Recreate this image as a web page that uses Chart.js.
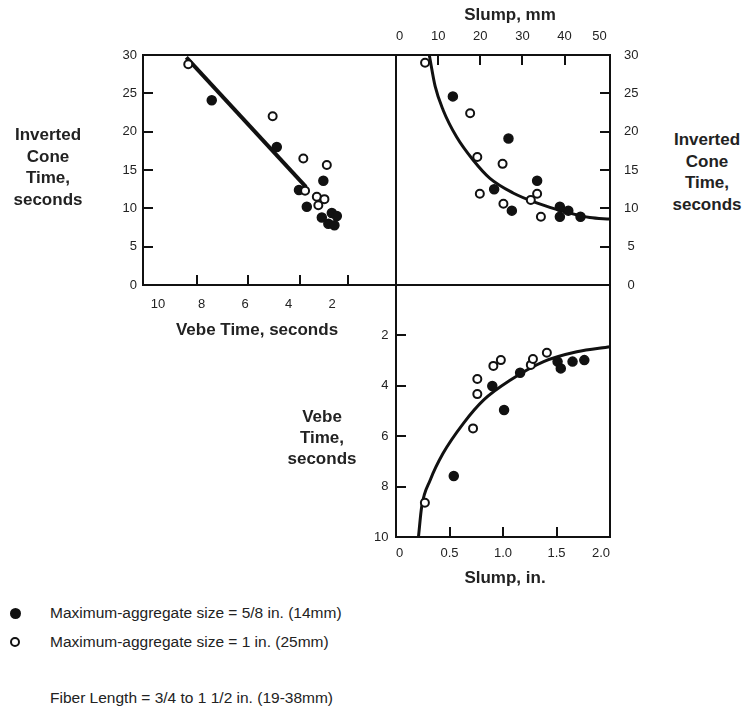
<!DOCTYPE html>
<html><head><meta charset="utf-8">
<script src="https://cdn.jsdelivr.net/npm/chart.js@4.4.1/dist/chart.umd.min.js"></script>
<style>
html,body{margin:0;padding:0;background:#fff;width:743px;height:714px;overflow:hidden;position:relative;font-family:"Liberation Sans",Arial,Helvetica,sans-serif;color:#222}
canvas{position:absolute}
.t{position:absolute;text-align:center;font-weight:bold;font-size:17px;line-height:21.7px;white-space:nowrap}
.lg{position:absolute;left:50px;font-size:15.5px;line-height:20px;white-space:nowrap}
.dot{position:absolute;border-radius:50%;box-sizing:border-box}
.tk{position:absolute;background:#111}
</style></head><body>
<canvas id="cA" width="316" height="310" style="left:90px;top:30px"></canvas>
<canvas id="cB" width="280" height="310" style="left:380px;top:0px"></canvas>
<canvas id="cC" width="290" height="330" style="left:340px;top:270px"></canvas>

<div class="t" style="left:-12px;top:124px;width:120px">Inverted<br>Cone<br>Time,<br>seconds</div>
<div class="t" style="left:662px;top:129px;width:90px">Inverted<br>Cone<br>Time,<br>seconds</div>
<div class="t" style="left:262px;top:406px;width:120px;line-height:21px">Vebe<br>Time,<br>seconds</div>
<div class="t" style="left:157px;top:319px;width:200px">Vebe Time, seconds</div>
<div class="t" style="left:445px;top:567px;width:120px">Slump, in.</div>
<div class="t" style="left:450px;top:4px;width:120px">Slump, mm</div>

<div class="dot" style="left:10px;top:608px;width:11px;height:11px;background:#111"></div>
<div class="lg" style="top:603px">Maximum-aggregate size = 5/8 in. (14mm)</div>
<div class="dot" style="left:10px;top:637px;width:10px;height:10px;border:2px solid #111;background:#fff"></div>
<div class="lg" style="top:632px">Maximum-aggregate size = 1 in. (25mm)</div>
<div class="lg" style="top:688px">Fiber Length = 3/4 to 1 1/2 in. (19-38mm)</div>

<script>
// ---------- Data ----------
// Panel A: Inverted cone time (s) vs Vebe time (s)
const vebeBlackA = [7.53, 4.54, 3.52, 2.40, 3.16, 2.47, 2.01, 1.78, 2.17, 1.89];
const coneBlackA = [24.1, 18.0, 12.4, 13.6, 10.2, 8.8, 9.4, 9.0, 8.0, 7.8];
const vebeOpenA  = [8.61, 4.73, 3.32, 2.24, 3.24, 2.70, 2.35, 2.63];
const coneOpenA  = [28.8, 22.0, 16.5, 15.65, 12.3, 11.5, 11.2, 10.4];
const vebeFitA   = [8.7, 3.2];
const coneFitA   = [29.7, 12.8];
const vebeTicksA = [10, 8, 6, 4, 2];
const vebeTickMarksA = [8.22, 5.85, 3.47, 1.25];   // tick marks as drawn in the figure
const coneTicks  = [0, 5, 10, 15, 20, 25, 30];
const coneTickMarks = [5, 10, 15, 20, 25];

// Panel B: Inverted cone time (s) vs slump (mm)
const slumpMmOpenB  = [6.9, 17.6, 19.3, 25.3, 19.9, 25.5, 32.0, 33.5, 34.4];
const coneOpenB     = [29.0, 22.4, 16.7, 15.8, 11.9, 10.6, 11.1, 11.9, 8.9];
const slumpMmBlackB = [13.5, 26.7, 23.3, 27.5, 33.5, 38.9, 38.9, 40.9, 43.8];
const coneBlackB    = [24.6, 19.1, 12.5, 9.7, 13.6, 10.2, 8.9, 9.7, 8.9];
const slumpMmCurveB = [7.9, 9.3, 11.2, 14.4, 18.3, 22.3, 27.8, 33.4, 39.7, 46.0, 50.8];
const coneCurveB    = [30.0, 25.9, 22.8, 19.3, 16.3, 13.9, 12.0, 10.7, 9.6, 8.8, 8.6];
const slumpMmTicks  = [0, 10, 20, 30, 40, 50];
const slumpMmTickMarks = [10, 20, 30, 40];

// Panel C: Vebe time (s) vs slump (in.)
const slumpInOpenC  = [0.27, 0.72, 0.76, 0.76, 0.91, 0.98, 1.26, 1.28, 1.41];
const vebeOpenC     = [8.64, 5.69, 4.33, 3.73, 3.21, 2.98, 3.17, 2.94, 2.69];
const slumpInBlackC = [0.54, 1.01, 0.90, 1.16, 1.51, 1.54, 1.65, 1.76];
const vebeBlackC    = [7.58, 4.96, 4.01, 3.48, 3.04, 3.31, 3.04, 2.98];
const slumpInCurveC = [0.21, 0.24, 0.32, 0.44, 0.63, 0.82, 1.07, 1.38, 1.69, 2.0];
const vebeCurveC    = [10.0, 8.8, 7.74, 6.68, 5.49, 4.56, 3.77, 3.04, 2.65, 2.45];
const slumpInTicks  = [0, 0.5, 1, 1.5, 2];
const slumpInLabels = ['0', '0.5', '1.0', '1.5', '2.0'];
const slumpInTickMarks = [0.5, 1, 1.5];
const vebeTicksC    = [2, 4, 6, 8, 10];
const vebeTickMarksC = [2, 4, 6, 8];

// ---------- Helpers ----------
const FONT = '"Liberation Sans", Arial, Helvetica, sans-serif';
const INK = '#111';
function zip(xs, ys) { return xs.map((x, i) => ({ x: x, y: ys[i] })); }

// frame around the plot area
const framePlugin = {
  id: 'frame',
  afterDraw(chart) {
    const ctx = chart.ctx;
    const a = chart.chartArea;
    ctx.save();
    ctx.setLineDash([]);
    ctx.lineWidth = 2;
    ctx.strokeStyle = INK;
    ctx.strokeRect(a.left, a.top, a.right - a.left, a.bottom - a.top);
    ctx.restore();
  }
};

// inward tick marks, positioned through each chart's own scales
function addTickMarks(chart, xMarks, yMarks) {
  const cv = chart.canvas;
  const ox = cv.offsetLeft, oy = cv.offsetTop;
  const a = chart.chartArea;
  const xs = chart.scales.x, ys = chart.scales.y;
  function put(l, t, w, h) {
    const d = document.createElement('div');
    d.className = 'tk';
    d.style.left = l + 'px'; d.style.top = t + 'px';
    d.style.width = w + 'px'; d.style.height = h + 'px';
    document.body.appendChild(d);
  }
  xMarks.forEach(v => {
    const p = Math.round(xs.getPixelForValue(v));
    if (xs.position === 'top') put(ox + p - 1, oy + a.top, 2, 10);
    else put(ox + p - 1, oy + a.bottom - 10, 2, 10);
  });
  yMarks.forEach(v => {
    const p = Math.round(ys.getPixelForValue(v));
    if (ys.position === 'right') put(ox + a.right - 10, oy + p - 1, 10, 2);
    else put(ox + a.left, oy + p - 1, 10, 2);
  });
}

function axis(o) {
  const vertical = (o.position === 'left' || o.position === 'right');
  return {
    type: 'linear', position: o.position, min: o.min, max: o.max, reverse: !!o.reverse,
    afterBuildTicks: s => { s.ticks = o.ticks.map(v => ({ value: v })); },
    afterFit: s => {
      if (vertical) s.width = o.size; else s.height = o.size;
      s.paddingTop = 0; s.paddingBottom = 0; s.paddingLeft = 0; s.paddingRight = 0;
    },
    grid: { display: false, drawTicks: false, drawOnChartArea: false },
    border: { display: false },
    ticks: {
      color: '#222', font: { family: FONT, size: 13 }, padding: o.pad,
      align: o.align || 'center', crossAlign: o.crossAlign || 'near',
      autoSkip: false, maxRotation: 0, minRotation: 0,
      callback: o.labels ? ((v, i) => o.labels[i]) : (v => String(v))
    }
  };
}

function pointSets(blackPts, openPts, linePts, lineWidth, smooth) {
  return [
    { data: openPts, pointRadius: 4, pointBackgroundColor: '#fff', pointBorderColor: INK, pointBorderWidth: 2, order: 0 },
    { data: blackPts, pointRadius: 4.5, pointBackgroundColor: INK, pointBorderColor: INK, pointBorderWidth: 1.5, order: 1 },
    { data: linePts, showLine: true, pointRadius: 0, borderColor: INK, borderWidth: lineWidth,
      tension: smooth ? 0.4 : 0, cubicInterpolationMode: smooth ? 'monotone' : 'default', order: 2 }
  ];
}

function baseOptions(padding, scales) {
  return {
    responsive: false, animation: false, events: [],
    layout: { padding: padding },
    plugins: { legend: { display: false }, tooltip: { enabled: false } },
    scales: scales
  };
}

// ---------- Panel A ----------
const chartA = new Chart(document.getElementById('cA'), {
  type: 'scatter',
  data: { datasets: pointSets(zip(vebeBlackA, coneBlackA), zip(vebeOpenA, coneOpenA), zip(vebeFitA, coneFitA), 4, false) },
  options: baseOptions({ left: 0, top: 25, right: 10, bottom: 0 }, {
    x: axis({ position: 'bottom', min: -0.94, max: 10.69, reverse: true, ticks: vebeTicksA, size: 55, pad: 12 }),
    y: axis({ position: 'left', min: 0, max: 30, ticks: coneTicks, size: 53, pad: 6 })
  }),
  plugins: [framePlugin]
});
addTickMarks(chartA, vebeTickMarksA, coneTickMarks);

// ---------- Panel B ----------
const chartB = new Chart(document.getElementById('cB'), {
  type: 'scatter',
  data: { datasets: pointSets(zip(slumpMmBlackB, coneBlackB), zip(slumpMmOpenB, coneOpenB), zip(slumpMmCurveB, coneCurveB), 3, true) },
  options: baseOptions({ left: 16, top: 0, right: 0, bottom: 25 }, {
    x: axis({ position: 'top', min: 0, max: 50.8, ticks: slumpMmTicks, size: 55, pad: 10.5, align: 'inner' }),
    y: axis({ position: 'right', min: 0, max: 30, ticks: coneTicks, size: 50, pad: 14, crossAlign: 'center' })
  }),
  plugins: [framePlugin]
});
addTickMarks(chartB, slumpMmTickMarks, coneTickMarks);

// ---------- Panel C ----------
const chartC = new Chart(document.getElementById('cC'), {
  type: 'scatter',
  data: { datasets: pointSets(zip(slumpInBlackC, vebeBlackC), zip(slumpInOpenC, vebeOpenC), zip(slumpInCurveC, vebeCurveC), 3, true) },
  options: baseOptions({ left: 0, top: 15, right: 20, bottom: 0 }, {
    x: axis({ position: 'bottom', min: 0, max: 2, ticks: slumpInTicks, labels: slumpInLabels, size: 63, pad: 8.5, align: 'inner' }),
    y: axis({ position: 'left', min: 0, max: 10, reverse: true, ticks: vebeTicksC, size: 56, pad: 7.5 })
  }),
  plugins: [framePlugin]
});
addTickMarks(chartC, slumpInTickMarks, vebeTickMarksC);
</script>
</body></html>
